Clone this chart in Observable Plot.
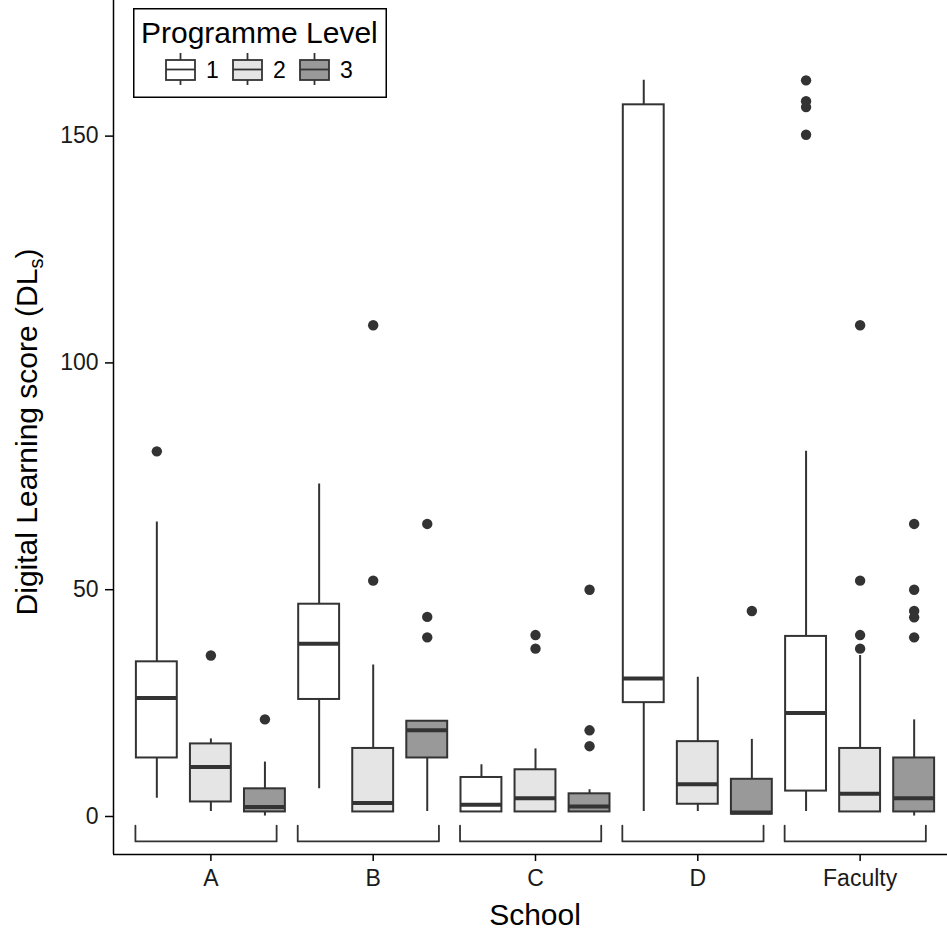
<!DOCTYPE html>
<html><head><meta charset="utf-8">
<script src="https://cdn.jsdelivr.net/npm/d3@7"></script>
<script src="https://cdn.jsdelivr.net/npm/@observablehq/plot@0.6"></script>
<style>
body{margin:0;background:#fff;font-family:"Liberation Sans",Arial,Helvetica,sans-serif;}
#wrap{position:relative;width:947px;height:930px;}
#legend{position:absolute;left:133px;top:8px;}
</style></head><body><div id="wrap"></div>
<script>
// ---- data ----
const schools = ["A", "B", "C", "D", "Faculty"];
const levels = ["1", "2", "3"];
const levelFills = ["#ffffff", "#e5e5e5", "#999999"];
const yTicks = [0, 50, 100, 150];

// per level, values in school order A, B, C, D, Faculty
const lower1 = [4.0, 6.1, 1.0, 1.1, 1.1];
const q1_1   = [12.9, 25.8, 1.0, 25.1, 5.6];
const med1   = [26.1, 38.1, 2.6, 30.4, 22.8];
const q3_1   = [34.1, 46.8, 8.6, 156.9, 39.7];
const upper1 = [64.9, 73.3, 11.4, 162.3, 80.5];

const lower2 = [1.1, 1.0, 1.0, 1.1, 1.0];
const q1_2   = [3.2, 1.0, 1.0, 2.7, 1.0];
const med2   = [10.9, 3.0, 4.0, 7.1, 5.0];
const q3_2   = [16.0, 15.0, 10.3, 16.5, 15.0];
const upper2 = [17.1, 33.4, 14.9, 30.7, 35.5];

const lower3 = [0.1, 1.1, 1.0, 0.5, 0.1];
const q1_3   = [1.0, 12.9, 1.0, 0.5, 1.0];
const med3   = [2.1, 19.0, 2.2, 0.9, 4.0];
const q3_3   = [6.1, 21.0, 5.0, 8.2, 12.9];
const upper3 = [12.0, 21.0, 5.9, 17.0, 21.3];

// outliers
const outlierSchool = ["A","A","A", "B","B","B","B","B", "C","C","C","C","C", "D",
  "Faculty","Faculty","Faculty","Faculty","Faculty","Faculty","Faculty","Faculty",
  "Faculty","Faculty","Faculty","Faculty","Faculty"];
const outlierLevel  = ["1","2","3", "2","2","3","3","3", "2","2","3","3","3", "3",
  "1","1","1","1","2","2","2","2","3","3","3","3","3"];
const outlierValue  = [80.5, 35.5, 21.4, 108.3, 52.0, 64.5, 44.0, 39.5, 40.0, 37.0, 50.0, 19.0, 15.5, 45.3,
  162.3, 157.7, 156.4, 150.3, 108.3, 52.0, 40.0, 37.0, 64.5, 50.0, 45.3, 43.9, 39.5];

// ---- layout helpers ----
const dodge = 0.333, halfBox = 0.126;
const xDomain = [0.4, 5.6], yDomain = [-8.38, 179.9];
const pos = (s, l) => schools.indexOf(s) + 1 + (levels.indexOf(l) - 1) * dodge;

const lowers = [lower1, lower2, lower3], q1s = [q1_1, q1_2, q1_3], meds = [med1, med2, med3],
      q3s = [q3_1, q3_2, q3_3], uppers = [upper1, upper2, upper3];
const rows = [];
schools.forEach((s, i) => levels.forEach((l, j) => rows.push({
  school: s, level: l, pos: pos(s, l),
  lower: lowers[j][i], q1: q1s[j][i], med: meds[j][i], q3: q3s[j][i], upper: uppers[j][i]
})));
const outliers = outlierValue.map((v, k) => ({school: outlierSchool[k], level: outlierLevel[k], value: v, pos: pos(outlierSchool[k], outlierLevel[k])}));
const bracketL = -0.465, bracketR = 0.405, bracketTop = -2.0, bracketBot = -5.5;
const brackets = schools.flatMap((s, i) => [
  {school: s, x: i + 1 + bracketL, y: bracketTop},
  {school: s, x: i + 1 + bracketL, y: bracketBot},
  {school: s, x: i + 1 + bracketR, y: bracketBot},
  {school: s, x: i + 1 + bracketR, y: bracketTop}
]);

const ink = "#333333";
const chart = Plot.plot({
  width: 947, height: 930,
  marginLeft: 113, marginRight: 0, marginTop: 0, marginBottom: 76,
  style: {fontFamily: "'Liberation Sans', Arial, Helvetica, sans-serif", fontSize: "23px", background: "#fff"},
  x: {domain: xDomain, range: [113, 957]},
  y: {domain: yDomain},
  color: {domain: levels, range: levelFills},
  marks: [
    Plot.ruleX(rows, {x: "pos", y1: "lower", y2: "upper", stroke: ink, strokeWidth: 2}),
    Plot.rect(rows, {x1: d => d.pos - halfBox, x2: d => d.pos + halfBox, y1: "q1", y2: "q3", fill: "level", stroke: ink, strokeWidth: 2}),
    Plot.ruleY(rows, {x1: d => d.pos - halfBox, x2: d => d.pos + halfBox, y: "med", stroke: ink, strokeWidth: 4}),
    Plot.dot(outliers, {x: "pos", y: "value", r: 5.2, fill: ink, stroke: "none"}),
    Plot.line(brackets, {x: "x", y: "y", z: "school", stroke: ink, strokeWidth: 1.8}),
    Plot.ruleX([xDomain[0]], {stroke: "#000", strokeWidth: 1.5}),
    Plot.ruleY([yDomain[0]], {stroke: "#000", strokeWidth: 1.5}),
    Plot.axisY(yTicks, {tickSize: 8, tickPadding: 7, fontSize: 23, fill: "#1a1a1a", stroke: "#000", strokeWidth: 1.5, label: null}),
    Plot.axisX([1, 2, 3, 4, 5], {tickSize: 7, tickPadding: 8, fontSize: 23, fill: "#1a1a1a", stroke: "#000", strokeWidth: 1.5, label: null,
      tickFormat: i => schools[i - 1]})
  ]
});

const svg = d3.select(chart);
// axis titles
svg.append("text").attr("x", 535).attr("y", 925).attr("text-anchor", "middle")
  .style("font-size", "30px").attr("fill", "#000").text("School");
const yl = svg.append("text").attr("transform", "translate(37,432) rotate(-90)")
  .attr("text-anchor", "middle").style("font-size", "30px").attr("fill", "#000");
yl.append("tspan").text("Digital Learning score (DL");
yl.append("tspan").attr("dy", 6).style("font-size", "20px").text("s");
yl.append("tspan").attr("dy", -6).text(")");

document.getElementById("wrap").appendChild(chart);

// legend
const leg = d3.select("#wrap").append("svg").attr("id", "legend").attr("width", 254).attr("height", 90);
leg.append("rect").attr("x", 0.75).attr("y", 0.75).attr("width", 252.5).attr("height", 88.5)
  .attr("fill", "#fff").attr("stroke", "#000").attr("stroke-width", 1.5);
leg.append("text").attr("x", 8).attr("y", 35).style("font-size", "30px").attr("fill", "#000").text("Programme Level");
levels.forEach((l, j) => {
  const g = leg.append("g").attr("transform", `translate(${33 + j * 67},0)`);
  g.append("line").attr("x1", 14.5).attr("x2", 14.5).attr("y1", 45).attr("y2", 77).attr("stroke", ink).attr("stroke-width", 1.8);
  g.append("rect").attr("x", 0).attr("y", 52).attr("width", 29).attr("height", 20)
    .attr("fill", levelFills[j]).attr("stroke", ink).attr("stroke-width", 1.8);
  g.append("line").attr("x1", 0).attr("x2", 29).attr("y1", 61.5).attr("y2", 61.5).attr("stroke", ink).attr("stroke-width", 1.8);
  g.append("text").attr("x", 40).attr("y", 70).style("font-size", "23px").attr("fill", "#000").text(l);
});
</script></body></html>
